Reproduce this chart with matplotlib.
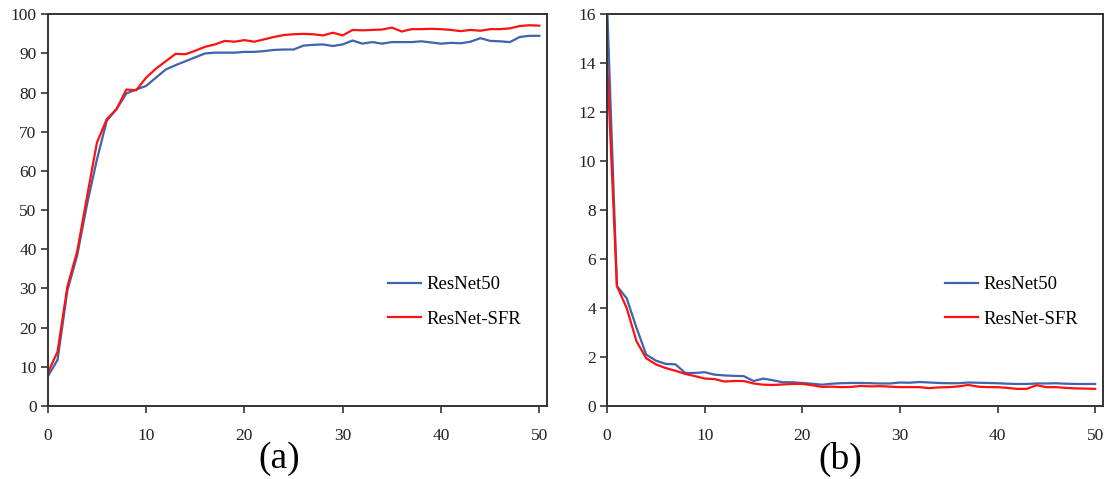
import matplotlib
matplotlib.use('Agg')
import matplotlib.pyplot as plt

plt.rcParams['font.family'] = ['Liberation Serif', 'DejaVu Serif']

epochs = list(range(0, 51))

# (a) accuracy
acc_resnet50 = [7.5, 11.8, 29.5, 38.5, 51.5, 62.9, 72.8, 75.8, 79.8, 80.8,
                81.7, 83.8, 85.9, 87.0, 88.0, 89.0, 90.0, 90.2, 90.2, 90.2,
                90.4, 90.4, 90.6, 90.9, 91.0, 91.0, 92.0, 92.2, 92.3, 91.9,
                92.3, 93.3, 92.5, 92.9, 92.5, 92.9, 92.9, 92.9, 93.1, 92.8,
                92.5, 92.7, 92.6, 93.0, 93.9, 93.2, 93.1, 92.9, 94.2, 94.5, 94.5]
acc_sfr = [8.4, 13.9, 30.5, 39.5, 53.5, 67.2, 73.2, 75.8, 80.8, 80.6,
           83.8, 86.1, 88.0, 89.9, 89.8, 90.7, 91.7, 92.3, 93.2, 93.0,
           93.4, 93.0, 93.6, 94.2, 94.7, 94.9, 95.0, 94.9, 94.6, 95.3,
           94.6, 96.0, 95.9, 96.0, 96.1, 96.6, 95.6, 96.2, 96.2, 96.3,
           96.2, 96.0, 95.7, 96.0, 95.8, 96.2, 96.2, 96.4, 97.0, 97.2, 97.1]

# (b) loss
loss_resnet50 = [16.3, 4.9, 4.4, 3.2, 2.1, 1.85, 1.72, 1.70, 1.35, 1.35,
                 1.38, 1.28, 1.25, 1.23, 1.22, 1.02, 1.12, 1.05, 0.97, 0.97,
                 0.94, 0.91, 0.87, 0.91, 0.93, 0.94, 0.94, 0.93, 0.92, 0.92,
                 0.96, 0.95, 0.98, 0.96, 0.94, 0.93, 0.93, 0.96, 0.95, 0.94,
                 0.93, 0.91, 0.90, 0.90, 0.92, 0.92, 0.93, 0.91, 0.90, 0.90, 0.90]
loss_sfr = [14.0, 4.9, 4.0, 2.65, 1.95, 1.70, 1.55, 1.44, 1.31, 1.22,
            1.12, 1.10, 1.00, 1.02, 1.02, 0.92, 0.87, 0.86, 0.88, 0.90,
            0.90, 0.85, 0.78, 0.79, 0.77, 0.78, 0.82, 0.80, 0.81, 0.79,
            0.77, 0.77, 0.77, 0.73, 0.76, 0.77, 0.80, 0.86, 0.79, 0.77,
            0.77, 0.74, 0.70, 0.70, 0.85, 0.77, 0.77, 0.74, 0.72, 0.71, 0.70]

labels = ['ResNet50', 'ResNet-SFR']
BLUE = '#4063ad'
RED = '#ff1111'

fig = plt.figure(figsize=(11.1, 4.79), dpi=100)
ax_a = fig.add_axes([0.043, 0.1524, 0.450, 0.8178])
ax_b = fig.add_axes([0.547, 0.1524, 0.4466, 0.8178])


def style(ax, ylim, yticks):
    ax.set_xlim(0, 50.8)
    ax.set_ylim(*ylim)
    ax.set_xticks([0, 10, 20, 30, 40, 50])
    ax.set_yticks(yticks)
    for s in ax.spines.values():
        s.set_linewidth(1.4)
        s.set_color('#333333')
    ax.tick_params(direction='out', length=5, width=1.2, colors='#333333',
                   labelsize=12.5, labelcolor='#222222', pad=3)
    ax.tick_params(axis='x', pad=11)
    ax.legend(labels, loc='center left', bbox_to_anchor=(0.681, 0.2655),
              frameon=False, fontsize=13.5, handlelength=1.75, handletextpad=0.3,
              labelspacing=0.95, borderpad=0, borderaxespad=0)


ax_a.plot(epochs, acc_resnet50, color=BLUE, lw=1.6)
ax_a.plot(epochs, acc_sfr, color=RED, lw=1.6)
style(ax_a, (0, 100), range(0, 101, 10))

ax_b.plot(epochs, loss_resnet50, color=BLUE, lw=1.6)
ax_b.plot(epochs, loss_sfr, color=RED, lw=1.6)
style(ax_b, (0, 16), range(0, 17, 2))

fig.text(279 / 1110, 1 - 459 / 479, '(a)', ha='center', va='center', fontsize=27)
fig.text(840 / 1110, 1 - 459 / 479, '(b)', ha='center', va='center', fontsize=27)

fig.savefig('out.png', dpi=100)
